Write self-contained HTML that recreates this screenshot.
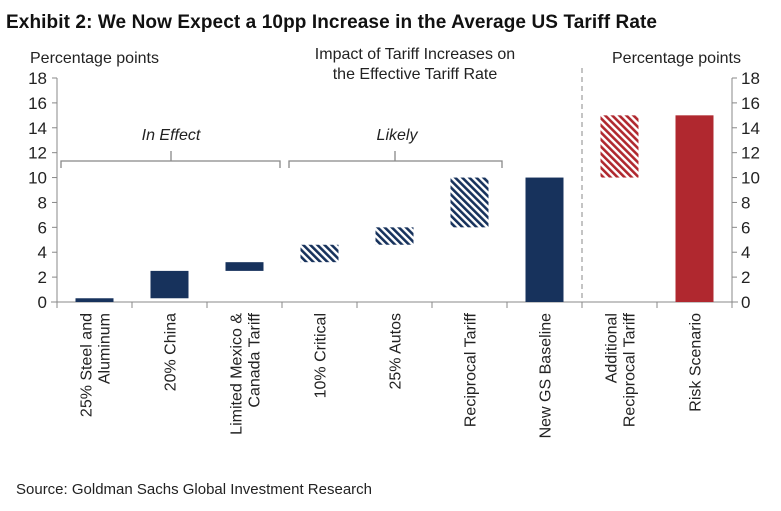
<!DOCTYPE html>
<html><head><meta charset="utf-8"><style>
body{margin:0;background:#fff;width:781px;height:506px;overflow:hidden;font-family:"Liberation Sans",sans-serif}
</style></head><body>
<svg width="781" height="506" xmlns="http://www.w3.org/2000/svg">
<defs>
<pattern id="hn" patternUnits="userSpaceOnUse" width="5" height="5" patternTransform="rotate(-45)"><rect width="5" height="5" fill="#fff"/><rect width="2.6" height="5" fill="#17325c"/></pattern>
<pattern id="hr" patternUnits="userSpaceOnUse" width="5" height="5" patternTransform="rotate(-45)"><rect width="5" height="5" fill="#fff"/><rect width="2.6" height="5" fill="#b0282f"/></pattern>
</defs>
<text x="6" y="28" font-size="19" font-weight="bold" fill="#111" textLength="651">Exhibit 2: We Now Expect a 10pp Increase in the Average US Tariff Rate</text>
<text x="30" y="63" font-size="16" fill="#222">Percentage  points</text>
<text x="612" y="63" font-size="16" fill="#222">Percentage  points</text>
<text x="415" y="59" font-size="16" fill="#222" text-anchor="middle">Impact of Tariff Increases on</text>
<text x="415" y="79" font-size="16" fill="#222" text-anchor="middle">the Effective  Tariff Rate</text>
<line x1="582" y1="68" x2="582" y2="302" stroke="#888" stroke-dasharray="5,4"/>
<g>
<path d="M61 168 V161 H280 V168 M171 161 V151" fill="none" stroke="#888" stroke-width="1.3"/>
<path d="M289 168 V161 H502 V168 M395 161 V151" fill="none" stroke="#888" stroke-width="1.3"/>
<text x="171" y="140" font-size="16" font-style="italic" fill="#222" text-anchor="middle">In Effect</text>
<text x="397" y="140" font-size="16" font-style="italic" fill="#222" text-anchor="middle">Likely</text>
</g>
<g id="axes"></g>
<g id="bars"></g>
<g id="xlabels"></g>
<text x="16" y="494" font-size="15" fill="#222">Source: Goldman Sachs Global Investment Research</text>
</svg>
<script>
const categories=["25% Steel and|Aluminum","20% China","Limited Mexico &|Canada Tariff","10% Critical","25% Autos","Reciprocal Tariff","New GS Baseline","Additional|Reciprocal Tariff","Risk Scenario"];
const barBottoms=[0,0.3,2.5,3.2,4.6,6,0,10,0];
const barTops=[0.3,2.5,3.2,4.6,6,10,10,15,15];
const barStyles=["navy","navy","navy","hatchNavy","hatchNavy","hatchNavy","navy","hatchRed","red"];
const yTicks=[0,2,4,6,8,10,12,14,16,18];
const NS="http://www.w3.org/2000/svg";
const x0=57,x1=732,yB=302,yT=78,yMax=18;
const bw=(x1-x0)/categories.length;
const Y=v=>yB-(v/yMax)*(yB-yT);
const X=i=>x0+bw*i+bw/2;
const fills={navy:"#17325c",hatchNavy:"url(#hn)",hatchRed:"url(#hr)",red:"#b0282f"};
function mk(tag,attrs,parent){const e=document.createElementNS(NS,tag);for(const k in attrs)e.setAttribute(k,attrs[k]);parent.appendChild(e);return e;}
const ax=document.getElementById('axes');
let l=mk('line',{x1:x0,y1:yT,x2:x0,y2:yB,stroke:'#888'},ax);


l=mk('line',{x1:x1,y1:yT,x2:x1,y2:yB,stroke:'#888'},ax);


l=mk('line',{x1:x0-6,y1:yB,x2:x1+6,y2:yB,stroke:'#888'},ax);


yTicks.forEach(v=>{
  mk('line',{x1:x0-5,y1:Y(v),x2:x0,y2:Y(v),stroke:'#888'},ax);
  mk('line',{x1:x1,y1:Y(v),x2:x1+5,y2:Y(v),stroke:'#888'},ax);
  let t=mk('text',{x:x0-10,y:Y(v)+6,'font-size':17,'text-anchor':'end',fill:'#222'},ax);t.textContent=v;
  
  
  t=mk('text',{x:x1+9,y:Y(v)+6,'font-size':17,fill:'#222'},ax);t.textContent=v;
  
  
});
for(let i=0;i<=categories.length;i++)mk('line',{x1:x0+bw*i,y1:yB,x2:x0+bw*i,y2:yB+6,stroke:'#888'},ax);
const bg=document.getElementById('bars'),lg=document.getElementById('xlabels');
categories.forEach((c,i)=>{
  const r=mk('rect',{x:X(i)-19,y:Y(barTops[i]),width:38,height:Math.max(1,Y(barBottoms[i])-Y(barTops[i])),fill:fills[barStyles[i]]},bg);
  
  
  const lines=c.split('|');
  const g=mk('g',{transform:`translate(${X(i)},313) rotate(-90)`},lg);
  
  
  lines.forEach((s,k)=>{
    const dy=(k-(lines.length-1)/2)*18+6;
    const t=mk('text',{x:0,y:dy,'font-size':16,'text-anchor':'end',fill:'#222'},g);t.textContent=s;
  });
});
</script>
</body></html>
